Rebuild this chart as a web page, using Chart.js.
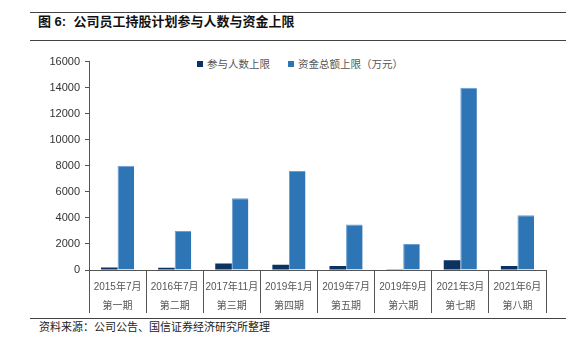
<!DOCTYPE html>
<html><head><meta charset="utf-8">
<script src="https://cdn.jsdelivr.net/npm/chart.js@4/dist/chart.umd.min.js"></script>
<style>
html,body{margin:0;padding:0;background:#fff;}
#wrap{position:relative;width:586px;height:348px;overflow:hidden;font-family:"Liberation Sans","Noto Sans CJK SC",sans-serif;}
.hl{position:absolute;left:30px;width:536px;height:0;border-top:1.5px solid #444;}
#title{position:absolute;left:38px;top:14px;font-size:13px;font-weight:bold;color:#111;line-height:16px;}
#foot{position:absolute;left:39px;top:319px;font-size:11px;color:#222;line-height:14px;font-family:"Noto Sans CJK SC",sans-serif;}
#legend{position:absolute;top:56px;left:197px;font-size:10.5px;color:#555;font-family:"Noto Sans CJK SC",sans-serif;white-space:nowrap;}
#legend span.sq{display:inline-block;width:6px;height:6px;margin-right:4px;vertical-align:1px;}
#cv{position:absolute;left:0;top:50px;}
</style></head>
<body><div id="wrap">
<div class="hl" style="top:12px"></div>
<div id="title">图 6:&nbsp; 公司员工持股计划参与人数与资金上限</div>
<div class="hl" style="top:40px"></div>
<div id="legend"><span class="sq" style="background:#0B3260"></span>参与人数上限<span style="display:inline-block;width:18px"></span><span class="sq" style="background:#2E75B6"></span>资金总额上限（万元）</div>
<canvas id="cv" width="586" height="265" style="width:586px;height:265px"></canvas>
<div class="hl" style="top:318px"></div>
<div id="foot">资料来源：公司公告、国信证券经济研究所整理</div>
</div>
<script>
const periods = ["2015年7月","2016年7月","2017年11月","2019年1月","2019年7月","2019年9月","2021年3月","2021年6月"];
const phases = ["第一期","第二期","第三期","第四期","第五期","第六期","第七期","第八期"];
const peopleLimit = [200,180,500,400,300,60,750,300];
const fundLimit = [8000,3000,5500,7600,3500,2000,14000,4200];
const yTicks = [0,2000,4000,6000,8000,10000,12000,14000,16000];

const labels = periods.map((p,i)=>[p,phases[i]]);

new Chart(document.getElementById('cv'), {
  type:'bar',
  data:{labels:labels, datasets:[
    {label:'参与人数上限', data:peopleLimit, backgroundColor:'#0B3260', borderColor:'#0B3260', borderWidth:0, barPercentage:1, categoryPercentage:0.58},
    {label:'资金总额上限（万元）', data:fundLimit, backgroundColor:'#2E75B6', borderColor:'#6A9FD3', borderWidth:{left:1,top:1,right:0,bottom:0}, barPercentage:1, categoryPercentage:0.58}
  ]},
  options:{
    responsive:false, animation:false, devicePixelRatio:1,
    layout:{padding:{left:0,right:40,top:11,bottom:0}},
    plugins:{legend:{display:false}, tooltip:{enabled:false}},
    scales:{
      x:{
        grid:{offset:true, drawOnChartArea:false, drawTicks:true, tickLength:43, color:'#555', lineWidth:1},
        border:{display:true, color:'#555', width:1},
        ticks:{padding:-35, color:'#555', font:{family:'"Liberation Sans","Noto Sans CJK SC",sans-serif', size:10, lineHeight:1.9}, maxRotation:0, autoSkip:false},
        afterFit:(s)=>{s.height=45;}
      },
      y:{
        min:0, max:16000,
        afterBuildTicks:(s)=>{s.ticks=yTicks.map(v=>({value:v}));},
        grid:{drawOnChartArea:false, drawTicks:true, tickLength:4, color:'#555'},
        border:{display:true, color:'#555', width:1},
        ticks:{padding:5, color:'#333', font:{family:'"Liberation Sans",sans-serif', size:11}, callback:(v)=>String(v)},
        afterFit:(s)=>{s.width=89;}
      }
    }
  }
});
</script>
</body></html>
